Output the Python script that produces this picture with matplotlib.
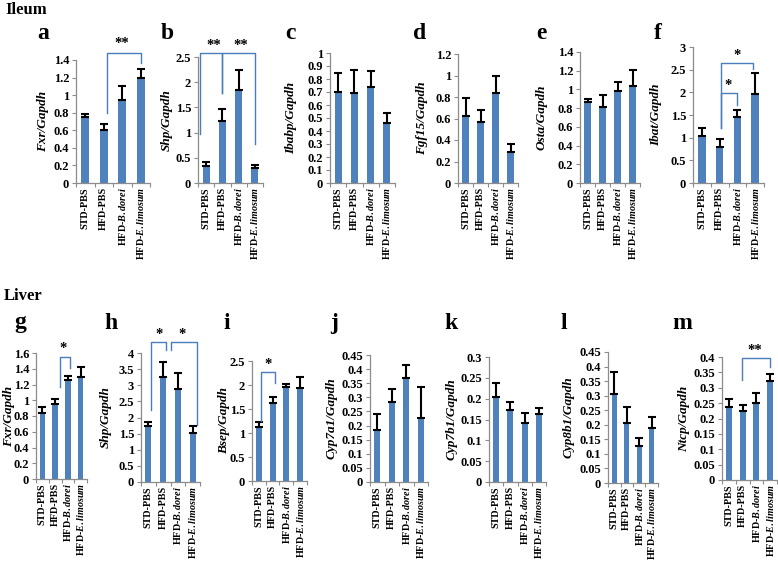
import matplotlib
matplotlib.use('Agg')
import matplotlib.pyplot as plt

plt.rcParams['font.family'] = ['Liberation Serif', 'DejaVu Serif']
plt.rcParams['font.weight'] = 'bold'
plt.rcParams['mathtext.fontset'] = 'custom'
plt.rcParams['mathtext.rm'] = 'Liberation Serif:bold'
plt.rcParams['mathtext.it'] = 'Liberation Serif:italic:bold'

groups = ['STD-PBS', 'HFD-PBS', r'HFD-$\mathit{B.dorei}$', r'HFD-$\mathit{E.limosum}$']

# --- Ileum ---
fxr_il = [0.75, 0.60, 0.94, 1.20]
fxr_il_err = [0.03, 0.07, 0.16, 0.10]
shp_il = [0.33, 1.23, 1.85, 0.30]
shp_il_err = [0.08, 0.23, 0.40, 0.06]
ibabp = [0.70, 0.69, 0.74, 0.46]
ibabp_err = [0.15, 0.18, 0.12, 0.08]
fgf15 = [0.62, 0.57, 0.84, 0.29]
fgf15_err = [0.17, 0.11, 0.16, 0.07]
osta = [0.87, 0.81, 0.98, 1.04]
osta_err = [0.03, 0.13, 0.10, 0.17]
ibat = [1.04, 0.79, 1.46, 1.96]
ibat_err = [0.17, 0.18, 0.15, 0.47]

# --- Liver ---
fxr_lv = [0.84, 0.95, 1.26, 1.30]
fxr_lv_err = [0.07, 0.07, 0.05, 0.12]
shp_lv = [1.75, 3.25, 2.88, 1.52]
shp_lv_err = [0.10, 0.48, 0.50, 0.22]
bsep = [1.12, 1.62, 1.95, 1.93]
bsep_err = [0.10, 0.13, 0.08, 0.23]
cyp7a1 = [0.185, 0.283, 0.370, 0.226]
cyp7a1_err = [0.057, 0.047, 0.045, 0.110]
cyp7b1 = [0.205, 0.172, 0.142, 0.163]
cyp7b1_err = [0.033, 0.020, 0.023, 0.014]
cyp8b1 = [0.305, 0.205, 0.126, 0.188]
cyp8b1_err = [0.075, 0.055, 0.028, 0.040]
ntcp = [0.237, 0.226, 0.250, 0.322]
ntcp_err = [0.026, 0.017, 0.034, 0.022]

# significance brackets: (x_left, x_right, y_left_end, y_top, y_right_end, label, label_x, label_y)
br_a = [(1.2, 3.0, 0.80, 1.48, 1.37, '**', 2.0, 1.51)]
br_b = [(-0.37, 1.0, 0.98, 2.57, 1.79, '**', 0.5, 2.60),
        (1.0, 3.0, 1.79, 2.57, 0.78, '**', 2.15, 2.60)]
br_f = [(1.1, 2.0, 1.21, 1.98, 1.72, '*', 1.5, 2.01),
        (1.1, 2.9, 1.21, 2.64, 2.52, '*', 2.0, 2.67)]
br_g = [(1.4, 2.17, 1.17, 1.55, 1.41, '*', 1.6, 1.57)]
br_h = [(0.2, 1.2, 2.23, 4.34, 4.09, '*', 0.75, 4.38),
        (1.5, 3.3, 4.09, 4.34, 1.77, '*', 2.3, 4.38)]
br_i = [(0.15, 1.17, 1.26, 2.27, 2.04, '*', 0.66, 2.30)]
br_m = [(0.94, 3.0, 0.325, 0.398, 0.366, '**', 1.9, 0.400)]

W, H = 778, 567
fig = plt.figure(figsize=(W / 100, H / 100), dpi=100)

BAR = '#4F81BD'
LINE = '#4A7EBB'
AXC = '#8C8C8C'

# (letter, ylabel, vals, errs, ymax, step, left_px, right_px, zero_px, top_px, ylabel_x_px, brackets)
panels = [
    ('a', 'Fxr/Gapdh', fxr_il, fxr_il_err, 1.4, 0.2, 76, 150, 183, 60, 43, br_a),
    ('b', 'Shp/Gapdh', shp_il, shp_il_err, 2.5, 0.5, 198, 263, 183, 57, 167, br_b),
    ('c', 'Ibabp/Gapdh', ibabp, ibabp_err, 1.0, 0.1, 330, 395, 183, 53, 291, []),
    ('d', 'Fgf15/Gapdh', fgf15, fgf15_err, 1.2, 0.2, 458, 518, 183, 54, 422, []),
    ('e', 'Osta/Gapdh', osta, osta_err, 1.4, 0.2, 580, 640, 183, 52, 542, []),
    ('f', 'Ibat/Gapdh', ibat, ibat_err, 3.0, 0.5, 693, 764, 183, 47, 656, br_f),
    ('g', 'Fxr/Gapdh', fxr_lv, fxr_lv_err, 1.6, 0.2, 36, 87, 479, 353, 9, br_g),
    ('h', 'Shp/Gapdh', shp_lv, shp_lv_err, 4.0, 0.5, 141, 200, 482, 353, 106, br_h),
    ('i', 'Bsep/Gapdh', bsep, bsep_err, 2.5, 0.5, 252, 307, 481, 361, 224, br_i),
    ('j', 'Cyp7a1/Gapdh', cyp7a1, cyp7a1_err, 0.45, 0.05, 370, 428, 482, 355, 332, []),
    ('k', 'Cyp7b1/Gapdh', cyp7b1, cyp7b1_err, 0.3, 0.05, 489, 546, 482, 357, 452, []),
    ('l', 'Cyp8b1/Gapdh', cyp8b1, cyp8b1_err, 0.45, 0.05, 608, 658, 483, 352, 569, []),
    ('m', 'Ntcp/Gapdh', ntcp, ntcp_err, 0.4, 0.05, 722, 777, 480, 357, 684, br_m),
]

letter_pos = {'a': (43, 39), 'b': (167, 39), 'c': (290, 39), 'd': (420, 39),
              'e': (541, 39), 'f': (658, 39), 'g': (20, 328), 'h': (111, 329),
              'i': (227, 329), 'j': (334, 329), 'k': (451, 329), 'l': (564, 329),
              'm': (682, 329)}

x = list(range(4))
for letter, ylab, vals, errs, ymax, step, l, r, z, t, lx_px, brs in panels:
    ax = fig.add_axes([l / W, 1 - z / H, (r - l) / W, (z - t) / H])
    ax.bar(x, vals, width=0.42, color=BAR, zorder=2)
    ax.errorbar(x, vals, yerr=[[0] * 4, errs], fmt='none', ecolor='black',
                elinewidth=1.5, capsize=2.6, capthick=1.5, zorder=3)
    ax.set_xlim(-0.5, 3.5)
    ax.set_ylim(0, ymax)
    n = int(round(ymax / step))
    ticks = [round(i * step, 3) for i in range(n + 1)]
    ax.set_yticks(ticks)
    ax.set_yticklabels(['{:g}'.format(v) for v in ticks], fontsize=9)
    ax.set_xticks(x)
    ax.set_xticklabels(groups, rotation=90, fontsize=7.3)
    ax.set_xticks([-0.5, 0.5, 1.5, 2.5, 3.5], minor=True)
    ax.tick_params(axis='x', which='major', length=0, pad=3)
    ax.tick_params(axis='x', which='minor', length=3, width=0.8, color=AXC, direction='out')
    ax.tick_params(axis='y', length=3, width=0.8, color=AXC, direction='out', pad=2)
    for s in ['top', 'right']:
        ax.spines[s].set_visible(False)
    for s in ['left', 'bottom']:
        ax.spines[s].set_color(AXC)
        ax.spines[s].set_linewidth(0.9)
    ax.set_ylabel(ylab, fontsize=9.5, fontstyle='italic', fontweight='bold')
    ax.yaxis.label.set_verticalalignment('center')
    ax.yaxis.set_label_coords((lx_px - l) / (r - l), 0.5)
    for x1, x2, y1, yt, y2, lab, sx, sy in brs:
        ax.plot([x1, x1, x2, x2], [y1, yt, yt, y2], color=LINE, lw=1.0,
                clip_on=False, zorder=4)
        ax.text(sx, sy, lab, ha='center', va='bottom', fontsize=10.5,
                fontweight='bold', clip_on=False)
    px, py = letter_pos[letter]
    fig.text(px / W, 1 - py / H, letter, ha='center', va='baseline',
             fontsize=17, fontweight='bold')

fig.text(5 / W, 1 - 14 / H, 'Ileum', ha='left', va='baseline', fontsize=12, fontweight='bold')
fig.text(4 / W, 1 - 300 / H, 'Liver', ha='left', va='baseline', fontsize=12, fontweight='bold')

fig.savefig('out.png', dpi=100)
